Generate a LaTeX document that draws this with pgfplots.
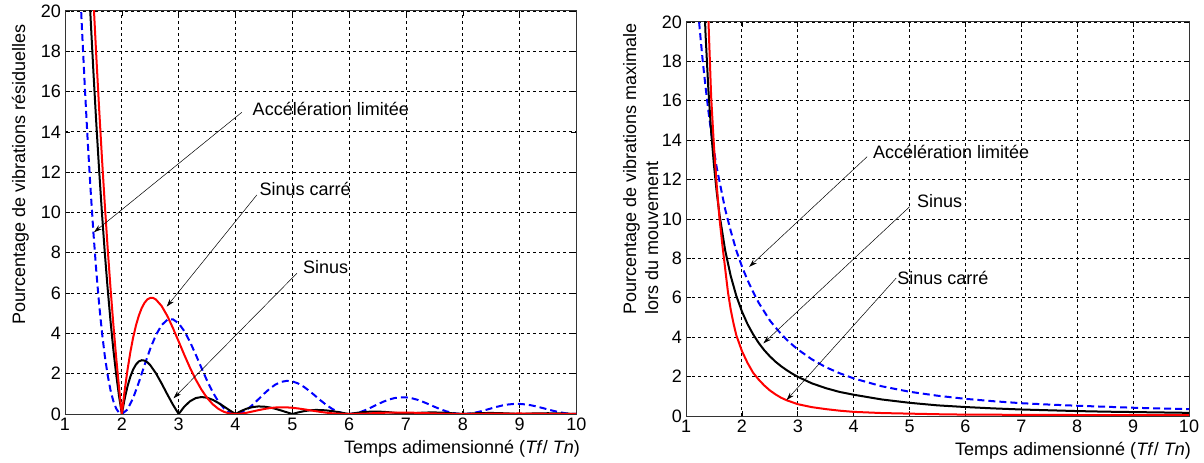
\documentclass[border=0pt]{standalone}
\usepackage{fontspec}
\setmainfont{Liberation Sans}
\usepackage{pgfplots}
\pgfplotsset{compat=1.18}
\usetikzlibrary{arrows.meta}
\newcommand\lab{\fontsize{18bp}{21bp}\selectfont}
\pgfplotsset{myax/.style={
  scale only axis, anchor=south west,
  xmin=1, xmax=10, ymin=0, ymax=20,
  xtick={1,...,10}, ytick={0,2,...,20},
  grid=major,
  grid style={black, line width=0.8bp, dash pattern=on 3bp off 3bp},
  axis line style={black!80, line width=1bp},
  tick style={black, line width=0.6bp}, major tick length=5bp, tick align=inside,
  ticklabel style={font=\lab},
  /pgf/number format/assume math mode=true,
  xticklabel style={inner sep=4bp},
  yticklabel style={inner sep=4bp},
}}
\tikzset{
  bl/.style={blue, line width=2bp, dash pattern=on 7bp off 4bp},
  bk/.style={black, line width=2bp},
  rd/.style={red, line width=2bp},
  ann/.style={black, line width=0.5bp, -{Stealth[length=8bp,width=5bp]}},
  txt/.style={font=\lab, inner sep=0pt, anchor=base west},
}
\pgfplotstableread{
x y
1.25 22.13
1.30 19.03
1.35 16.16
1.40 13.52
1.45 11.14
1.50 9.00
1.55 7.11
1.60 5.47
1.65 4.06
1.70 2.89
1.75 1.94
1.80 1.19
1.85 0.645
1.90 0.274
1.95 0.066
2.00 0
2.10 0.225
2.20 0.799
2.30 1.578
2.40 2.429
2.50 3.24
2.60 3.921
2.70 4.411
2.80 4.673
2.90 4.698
3.00 4.5
3.10 4.111
3.20 3.577
3.30 2.953
3.40 2.293
3.50 1.653
3.60 1.080
3.70 0.610
3.80 0.268
3.90 0.065
4.00 0
4.10 0.059
4.20 0.219
4.30 0.451
4.40 0.723
4.50 1.0
4.60 1.253
4.70 1.456
4.80 1.590
4.90 1.645
5.00 1.62
5.10 1.519
5.20 1.355
5.30 1.145
5.40 0.909
5.50 0.669
5.60 0.446
5.70 0.257
5.80 0.115
5.90 0.028
6.00 0
6.10 0.027
6.20 0.101
6.30 0.210
6.40 0.342
6.50 0.479
6.60 0.609
6.70 0.716
6.80 0.792
6.90 0.830
7.00 0.8265
7.10 0.784
7.20 0.707
7.30 0.603
7.40 0.484
7.50 0.36
7.60 0.242
7.70 0.141
7.80 0.064
7.90 0.016
8.00 0
8.10 0.015
8.20 0.058
8.30 0.121
8.40 0.198
8.50 0.280
8.60 0.358
8.70 0.425
8.80 0.473
8.90 0.499
9.00 0.50
9.10 0.477
9.20 0.433
9.30 0.372
9.40 0.300
9.50 0.224
9.60 0.152
9.70 0.089
9.80 0.040
9.90 0.010
10.00 0
}\LBlue
\pgfplotstableread{
x y
1.40 22.53
1.45 19.67
1.50 16.98
1.55 14.46
1.60 12.13
1.65 9.98
1.70 8.01
1.75 6.24
1.80 4.64
1.85 3.22
1.90 1.98
1.95 0.911
2.00 0
2.05 0.758
2.10 1.374
2.15 1.856
2.20 2.215
2.25 2.462
2.30 2.610
2.35 2.669
2.40 2.650
2.45 2.565
2.50 2.425
2.60 2.021
2.70 1.516
2.80 0.977
2.90 0.458
3.00 0
3.10 0.369
3.20 0.633
3.30 0.789
3.40 0.843
3.50 0.808
3.60 0.703
3.70 0.548
3.80 0.366
3.90 0.177
4.00 0
4.10 0.152
4.20 0.268
4.30 0.342
4.40 0.375
4.50 0.367
4.60 0.326
4.70 0.260
4.80 0.177
4.90 0.087
5.00 0
5.10 0.077
5.20 0.138
5.30 0.179
5.40 0.199
5.50 0.198
5.60 0.178
5.70 0.143
5.80 0.099
5.90 0.049
6.00 0
6.10 0.045
6.20 0.081
6.30 0.106
6.40 0.118
6.50 0.119
6.60 0.108
6.70 0.088
6.80 0.061
6.90 0.031
7.00 0
7.10 0.028
7.20 0.051
7.30 0.067
7.40 0.076
7.50 0.077
7.60 0.070
7.70 0.057
7.80 0.040
7.90 0.020
8.00 0
8.25 0.041
8.50 0.053
8.75 0.034
9.00 0
9.25 0.029
9.50 0.038
9.75 0.025
10.00 0
}\LBlack
\pgfplotstableread{
x y
1.45 23.48
1.50 20.57
1.55 17.80
1.60 15.18
1.65 12.71
1.70 10.41
1.75 8.26
1.80 6.28
1.85 4.47
1.90 2.82
1.95 1.33
2.00 0
2.05 1.173
2.10 2.19
2.15 3.07
2.20 3.81
2.25 4.41
2.30 4.89
2.35 5.26
2.40 5.52
2.45 5.69
2.50 5.76
2.55 5.76
2.60 5.68
2.70 5.36
2.80 4.87
2.90 4.26
3.00 3.60
3.10 2.93
3.20 2.29
3.30 1.714
3.40 1.213
3.50 0.801
3.60 0.482
3.70 0.252
3.80 0.103
3.90 0.023
4.00 0
4.10 0.018
4.20 0.064
4.30 0.125
4.40 0.188
4.50 0.246
4.60 0.292
4.70 0.322
4.80 0.334
4.90 0.329
5.00 0.309
5.10 0.276
5.20 0.235
5.30 0.190
5.40 0.145
5.50 0.102
5.60 0.065
5.70 0.036
5.80 0.016
5.90 0.004
6.00 0
6.25 0.017
6.50 0.050
6.75 0.073
7.00 0.073
7.25 0.054
7.50 0.028
7.75 0.007
8.00 0
8.50 0.016
9.00 0.026
9.50 0.010
10.00 0
}\LRed
\pgfplotstableread{
x y
1.20 21.1
1.25 19.5
1.30 18.0
1.35 16.7
1.40 15.5
1.45 14.4
1.50 13.5
1.55 12.6
1.60 11.9
1.70 10.5
1.80 9.4
1.90 8.4
2.00 7.6
2.10 6.9
2.20 6.3
2.30 5.75
2.40 5.3
2.50 4.85
2.60 4.5
2.70 4.17
2.80 3.88
2.90 3.62
3.00 3.38
3.25 2.88
3.50 2.48
3.75 2.17
4.00 1.91
4.50 1.51
5.00 1.23
5.50 1.03
6.00 0.87
6.50 0.75
7.00 0.65
7.50 0.58
8.00 0.52
8.50 0.47
9.00 0.42
9.50 0.38
10.00 0.35
}\RBlue
\pgfplotstableread{
x y
1.30 23.07
1.35 19.36
1.40 16.58
1.45 14.44
1.50 12.74
1.55 11.35
1.60 10.21
1.70 8.42
1.80 7.11
1.90 6.10
2.00 5.31
2.10 4.67
2.20 4.15
2.30 3.71
2.40 3.34
2.50 3.03
2.60 2.76
2.70 2.53
2.80 2.33
2.90 2.15
3.00 1.99
3.25 1.66
3.50 1.415
3.75 1.22
4.00 1.08
4.50 0.84
5.00 0.67
5.50 0.54
6.00 0.455
6.50 0.386
7.00 0.33
7.50 0.29
8.00 0.25
8.50 0.22
9.00 0.20
9.50 0.18
10.00 0.16
}\RBlack
\pgfplotstableread{
x y
1.38 21.5
1.40 20.2
1.45 16.2
1.50 13.7
1.55 11.7
1.60 10.0
1.65 8.7
1.70 7.5
1.75 6.3
1.80 5.4
1.85 4.7
1.90 4.1
2.00 3.3
2.10 2.7
2.20 2.2
2.30 1.85
2.40 1.55
2.50 1.3
2.60 1.1
2.70 0.93
2.80 0.8
3.00 0.6
3.25 0.45
3.50 0.35
3.75 0.27
4.00 0.21
4.50 0.15
5.00 0.12
5.50 0.09
6.00 0.07
7.00 0.06
8.00 0.05
9.00 0.045
10.00 0.04
}\RRed
\begin{document}
\begin{tikzpicture}
\useasboundingbox (0,0) rectangle (1204bp,463bp);
\begin{axis}[myax, at={(65bp,49bp)}, width=511.5bp, height=403bp]
\addplot[bl] table {\LBlue};
\addplot[bk] table {\LBlack};
\addplot[rd] table {\LRed};
\draw[ann] (axis cs:4.11,14.97) -- (axis cs:1.51,9.02);
\draw[ann] (axis cs:4.375,10.87) -- (axis cs:2.79,5.33);
\draw[ann] (axis cs:5.08,6.98) -- (axis cs:2.91,0.78);
\node[txt] at (axis cs:4.30,14.80) {Accélération limitée};
\node[txt] at (axis cs:4.42,10.82) {Sinus carré};
\node[txt] at (axis cs:5.185,6.95) {Sinus};
\end{axis}
\begin{axis}[myax, at={(686bp,47bp)}, width=503bp, height=394bp]
\addplot[bl] table {\RBlue};
\addplot[bk] table {\RBlack};
\addplot[rd] table {\RRed};
\draw[ann] (axis cs:4.24,13.16) -- (axis cs:2.13,7.57);
\draw[ann] (axis cs:5.0,10.62) -- (axis cs:2.385,3.69);
\draw[ann] (axis cs:4.76,7.0) -- (axis cs:2.80,0.81);
\node[txt] at (axis cs:4.346,13.07) {Accélération limitée};
\node[txt] at (axis cs:5.13,10.57) {Sinus};
\node[txt] at (axis cs:4.78,6.70) {Sinus carré};
\end{axis}
\node[font=\lab, inner sep=0pt, anchor=base east] at (580bp,10bp) {Temps adimensionné (\textit{Tf}/ \textit{Tn})};
\node[font=\lab, inner sep=0pt, anchor=base east] at (1191bp,8bp) {Temps adimensionné (\textit{Tf}/ \textit{Tn})};
\node[font=\lab, inner sep=0pt, anchor=base west, rotate=90] at (25bp,138bp) {Pourcentage de vibrations résiduelles};
\node[font=\lab, inner sep=0pt, anchor=base west, rotate=90] at (636bp,148bp) {Pourcentage de vibrations maximale};
\node[font=\lab, inner sep=0pt, anchor=base west, rotate=90] at (658bp,148bp) {lors du mouvement};
\end{tikzpicture}
\end{document}
